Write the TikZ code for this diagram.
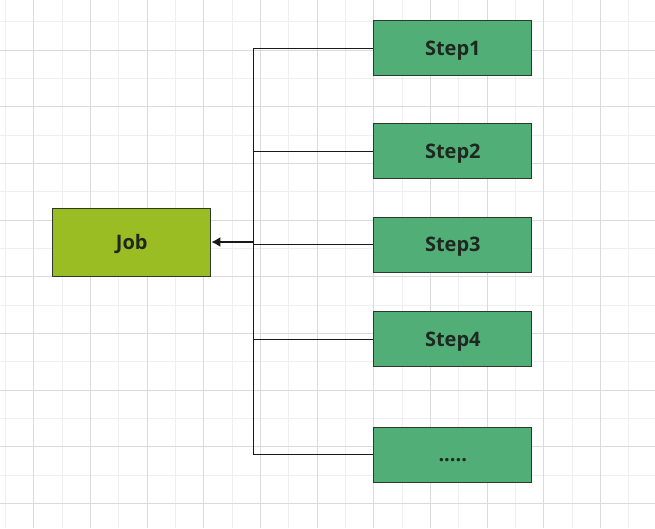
\documentclass[tikz,border=0pt]{standalone}
\usepackage{fontspec}
\setsansfont{Open Sans}
\usetikzlibrary{arrows.meta}

\definecolor{jobgreen}{HTML}{9BBD24}
\definecolor{stepgreen}{HTML}{51AE77}
\definecolor{boxline}{HTML}{2A3A2C}
\definecolor{textdark}{HTML}{1E2820}
\definecolor{gridminor}{HTML}{EFEFEF}
\definecolor{gridmajor}{HTML}{DADADA}

\begin{document}
\begin{tikzpicture}[x=1pt,y=-1pt]

  % canvas and grid
  \useasboundingbox[fill=white] (0,0) rectangle (655,528);
  \tikzstyle{Minor}=[gridminor,line width=0.9pt]
  \tikzstyle{Major}=[gridmajor,line width=0.9pt]
  \foreach \i in {0,...,22} \draw[Minor] ({5.4+28.33*\i},0) -- ++(0,528);
  \foreach \i in {0,...,17} \draw[Minor] (0,{21.9+28.33*\i}) -- ++(655,0);
  \foreach \i in {1,3,...,21} \draw[Major] ({5.4+28.33*\i},0) -- ++(0,528);
  \foreach \i in {1,3,...,17} \draw[Major] (0,{21.9+28.33*\i}) -- ++(655,0);

  \coordinate (X) at (253.3,242);

  % node styles
  \tikzstyle{Box}=[
  anchor=west,
  draw=boxline,
  line width=1pt,
  text=textdark,
  font=\sffamily\bfseries\fontsize{20}{24}\selectfont,
  align=center,
  text height=14.3pt,
  text depth=0pt,
  inner sep=0pt,
  minimum width=158pt,
  minimum height=55pt,
  shape=rectangle]

  \tikzstyle{Link}=[black!90,line width=0.9pt]
  \tikzstyle{Arrow}=[black!90,line width=1.7pt,-{Latex[length=9pt,width=10pt]}]

  \draw (X) node[Box,anchor=east,fill=jobgreen,minimum height=68pt] (J) at +(-42,0) {Job};

  \draw (X) node[Box,fill=stepgreen] (S1) at +(120,-194) {Step1};
  \draw (X) node[Box,fill=stepgreen] (S2) at +(120, -91) {Step2};
  \draw (X) node[Box,fill=stepgreen] (S3) at +(120, 2.5) {Step3};
  \draw (X) node[Box,fill=stepgreen] (S4) at +(120,  97) {Step4};
  \draw (X) node[Box,fill=stepgreen] (S5) at +(120,212.5) {.....};

  \draw[Link] (X) |- (S1.west);
  \draw[Link] (X) |- (S2.west);
  \draw[Link] (X) |- (S3.west);
  \draw[Link] (X) |- (S4.west);
  \draw[Link] (X) |- (S5.west);

  \draw[Arrow] (X) -- (J.east);

\end{tikzpicture}
\end{document}
